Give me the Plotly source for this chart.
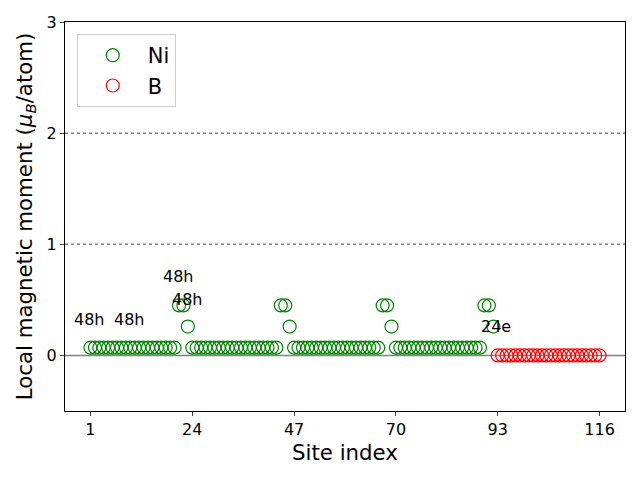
import plotly.graph_objects as go

# ---- data ----
ni_sites = list(range(1, 93))
ni_moments = []
for g in range(4):
    ni_moments += [0.07] * 20 + [0.45, 0.45, 0.26]
b_sites = list(range(93, 117))
b_moments = [0.0] * 24

label_texts = ["48h", "48h", "48h", "48h", "24e"]
label_x = [0.8, 9.8, 20.8, 23.0, 92.7]
label_y = [0.32, 0.32, 0.71, 0.50, 0.26]

tick_vals = [1, 24, 47, 70, 93, 116]

FONT = "DejaVu Sans"

fig = go.Figure()
fig.add_trace(go.Scatter(
    x=ni_sites, y=ni_moments, mode="markers", name="Ni",
    marker=dict(symbol="circle-open", size=13, color="green", line=dict(width=1.2))))
fig.add_trace(go.Scatter(
    x=b_sites, y=b_moments, mode="markers", name="B",
    marker=dict(symbol="circle-open", size=13, color="red", line=dict(width=1.2))))

fig.add_hline(y=0, line=dict(color="gray", width=1.5), layer="below")
for yv in (1, 2):
    fig.add_hline(y=yv, line=dict(color="gray", width=1.5, dash="dot"), layer="below")

for t, x, y in zip(label_texts, label_x, label_y):
    fig.add_annotation(x=x, y=y, text=t, showarrow=False, xanchor="center",
                       yanchor="middle", font=dict(family=FONT, size=16, color="black"))

fig.update_layout(
    width=640, height=480,
    margin=dict(l=65, r=15, t=22, b=69),
    plot_bgcolor="white", paper_bgcolor="white",
    font=dict(family=FONT, size=16, color="black"),
    showlegend=True,
    legend=dict(x=0.021, y=0.969, xanchor="left", yanchor="top",
                bordercolor="#d0d0d0", borderwidth=1, bgcolor="white",
                font=dict(family=FONT, size=21), itemwidth=60),
    xaxis=dict(range=[-4.75, 121.75], tickvals=tick_vals, ticks="outside", ticklen=4,
               showgrid=False, zeroline=False, showline=True, linecolor="black",
               linewidth=1, mirror=True, tickfont=dict(size=16),
               title=dict(text="Site index", font=dict(size=21.3), standoff=6)),
    yaxis=dict(range=[-0.5, 3], tickvals=[0, 1, 2, 3], ticks="outside", ticklen=4,
               showgrid=False, zeroline=False, showline=True, linecolor="black",
               linewidth=1, mirror=True, tickfont=dict(size=16),
               title=dict(text="Local magnetic moment (<i>μ<sub>B</sub></i>/atom)",
                          font=dict(size=21.3), standoff=8)),
)

fig.write_html("out.html")
